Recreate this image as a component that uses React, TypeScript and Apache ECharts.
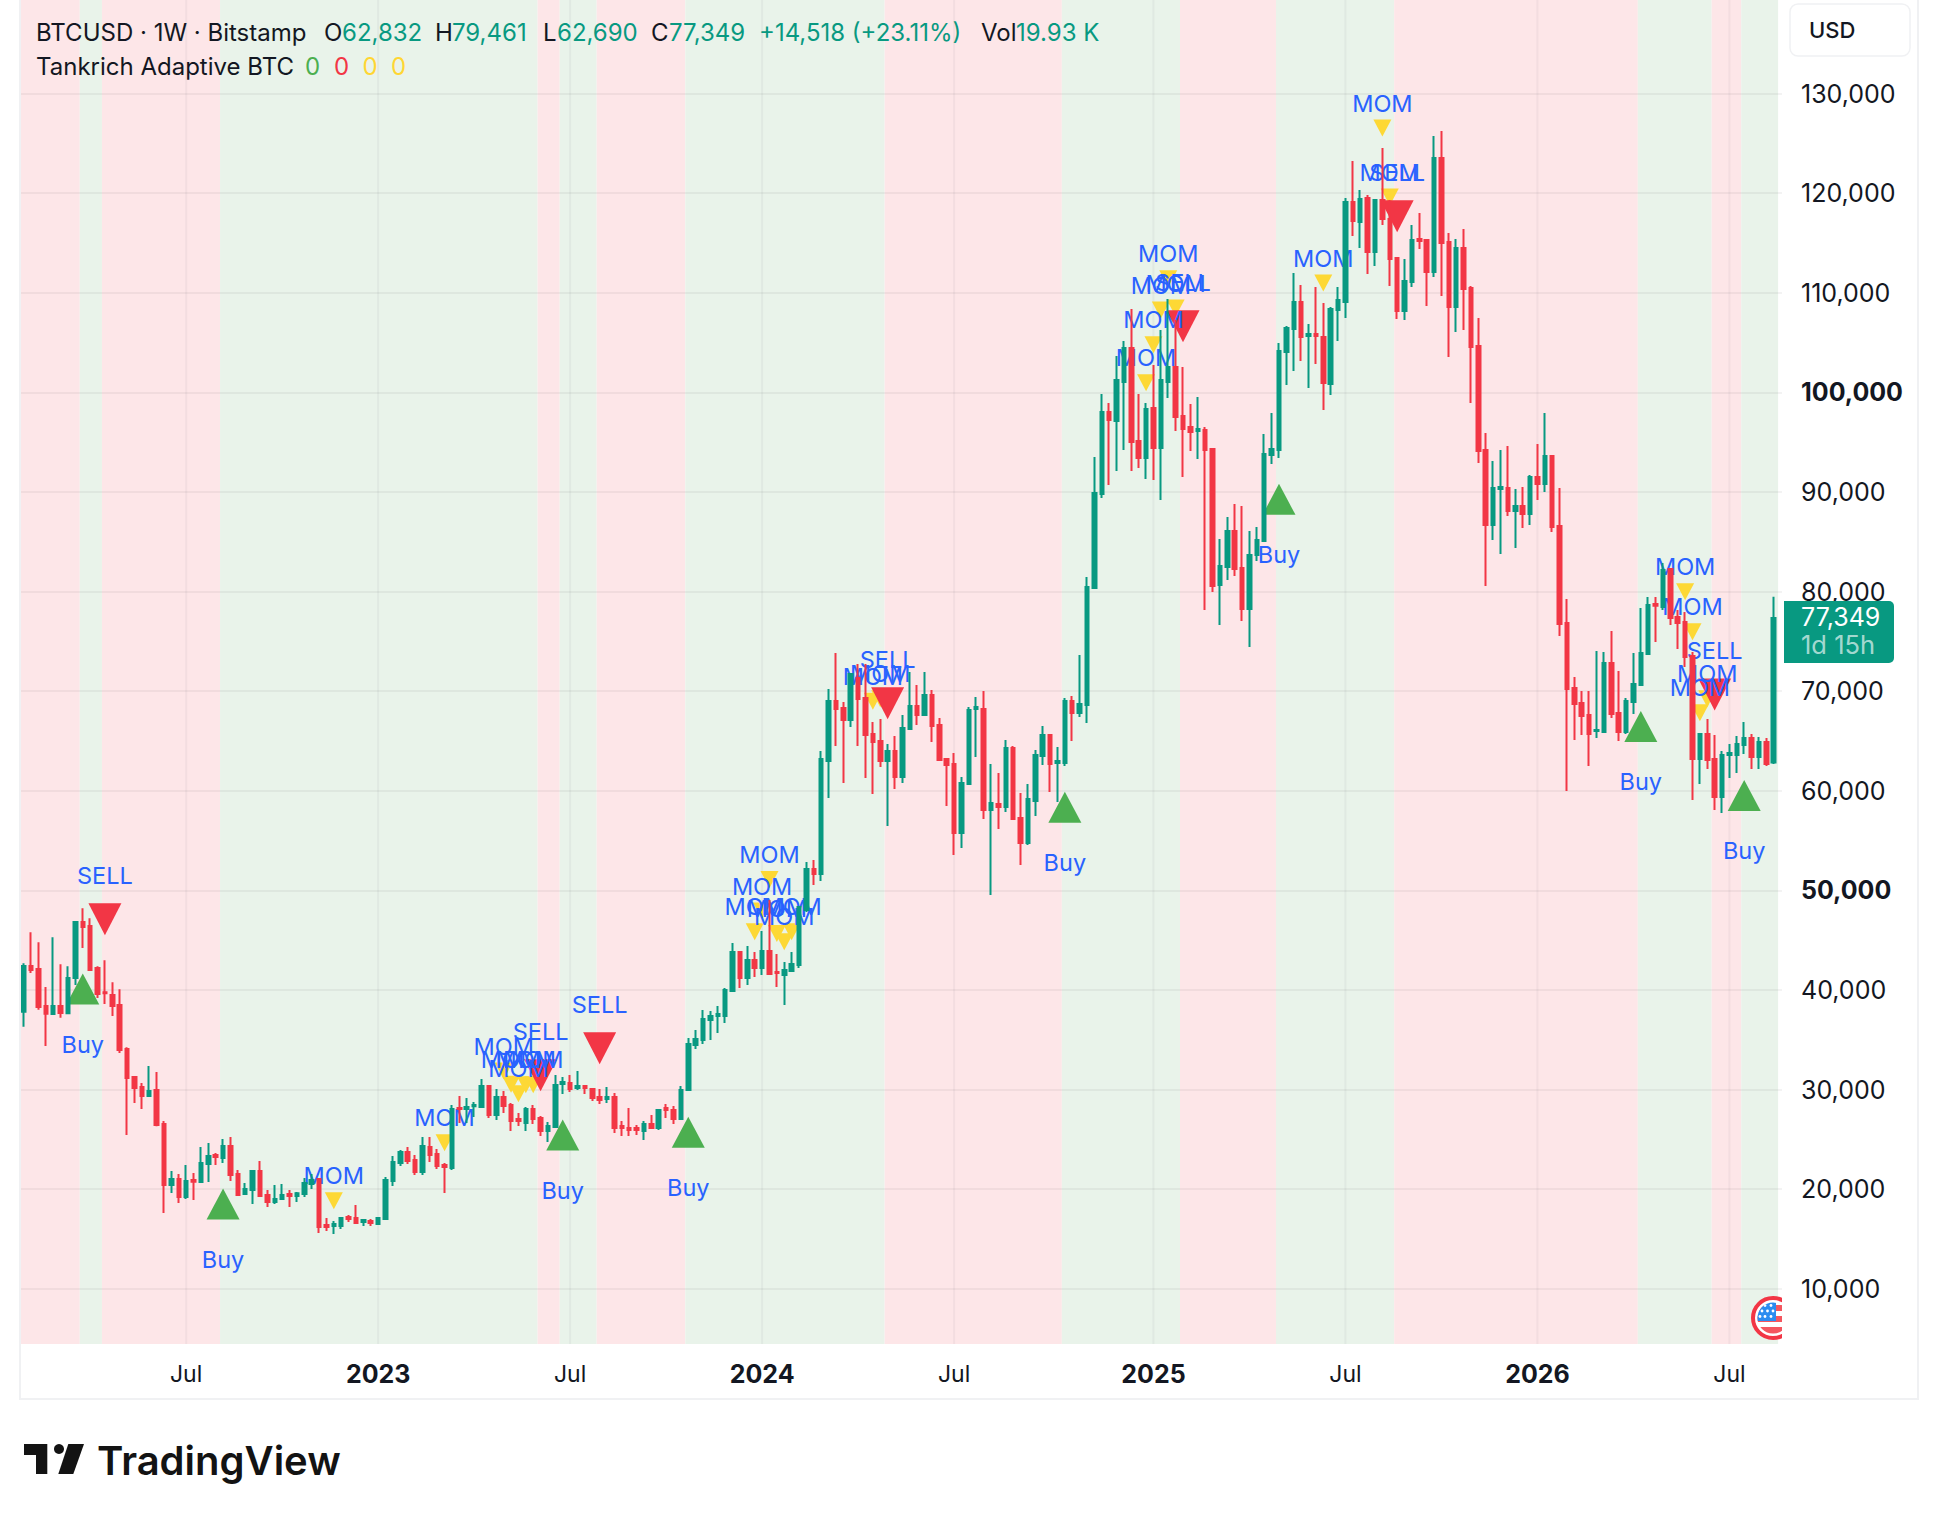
import React, { useEffect, useRef } from "react";
import * as echarts from "echarts";

const opens = [
37813,42398,42097,38382,37579,38382,37646,41194,46816,46415,
42198,39754,39487,38482,34064,31253,30249,29345,29948,26534,
20409,21011,19204,20911,20710,22517,23421,23120,24325,21513,
19505,19907,21814,19405,18702,19003,19505,19304,19505,20509,
21011,16392,16292,16292,17196,17095,16693,16794,16493,16995,
20810,22618,23722,22919,21714,24224,23521,22417,22116,28140,
28040,28307,28241,30349,27437,29245,28441,27036,26634,28040,
27136,25831,26232,30550,30650,30148,30349,30048,29245,29044,
29245,26333,26132,26132,25831,26534,26132,28140,27939,27036,
29948,34466,34968,36976,37378,37378,39888,43804,41194,43001,
42198,43905,41796,41495,41896,42499,48021,52138,51633,62979,
69004,68301,67096,71313,69305,65690,64987,62979,63983,61373,
66192,68502,67598,69606,66594,63180,62678,55750,60670,68201,
68201,58059,58662,58360,64285,57256,54746,58963,63481,65590,
62778,62778,69004,67799,68599,80347,89786,98019,97116,101032,
104446,95107,93400,98421,94405,101032,102538,97618,96513,96111,
96212,94304,80648,82456,86070,82355,78239,83661,85066,93702,
94204,104044,106353,109064,105650,105851,105550,100831,108261,109063,
119104,117096,119506,114084,119305,117397,113481,108159,111071,115389,
115289,112075,123522,115088,108561,114485,110469,104645,94202,86672,
90287,90387,88077,88580,87776,91491,90789,93600,86573,76834,
70307,68801,67596,65989,65889,72817,67797,65889,68901,70608,
73721,78741,78440,82256,77436,76934,73520,63178,65688,63178,
59362,63579,63579,64584,65286,63379,64885,62832];

const closes = [
42398,41997,38282,37612,38382,37679,41194,46816,46314,41997,
39587,39654,38382,33964,31153,30148,29345,29847,26433,20409,
21011,19204,20810,20743,22618,23321,23220,24325,21413,19405,
20007,21814,19304,18702,19003,19405,19304,19572,20609,20911,
16191,16191,16493,17095,16995,16593,16894,16593,17095,20911,
22718,23722,22818,21714,24325,23421,22316,22216,28040,28040,
28241,28441,30349,27437,29245,28341,26835,26835,28040,27036,
25831,26333,30450,30751,30048,30349,30148,29144,28943,29245,
26132,26132,25931,25931,26534,26132,27939,27939,27036,29948,
34566,35069,37077,37378,37579,39989,43804,41194,43001,42198,
43905,41595,41696,41997,42599,48323,52138,51636,63180,69004,
68201,67096,71715,69205,65590,64887,62979,63983,61373,66293,
68502,67598,69606,66494,63080,62578,55750,60770,68100,68401,
58059,58762,58360,64285,57155,54746,59164,63582,65590,62678,
62979,69004,67799,68703,80448,89886,98019,97216,101232,104446,
95007,93400,98321,94405,101232,102538,97517,96312,96011,96312,
94204,80548,82556,86070,82255,78239,83661,85167,93802,94304,
104144,106454,109064,105550,105851,105650,100931,108362,109265,119104,
117196,119405,114084,119305,117397,113381,108159,111172,115289,115188,
112075,123522,114987,108561,114485,110369,104545,94102,86672,90387,
90487,88077,88580,87776,91491,90789,93600,86471,76733,70207,
68700,67495,65688,66090,72817,67696,65889,69002,70709,73821,
78641,78575,82155,77336,76834,73420,63178,65688,63077,59362,
63579,63780,64684,65286,63379,64885,62676,77349];

const lows = [
36307,41696,38014,34366,37478,37211,37612,40491,44206,41930,
39185,38583,37378,33663,25429,28642,28040,29245,26300,17597,
19605,18601,19003,18902,20710,20710,22417,22618,20810,19405,
19505,18501,19304,18200,18501,19003,18200,18702,19204,20007,
15589,15790,15489,15991,16693,16550,16292,16292,16450,16950,
20308,22316,22517,21413,21413,22718,22015,19605,21915,26634,
26634,27237,28140,27136,26935,27638,25831,26333,25831,26534,
25329,24726,26232,29546,29747,29948,29546,28843,28542,28642,
25630,25329,25329,25429,24927,26132,25931,27136,26534,27036,
29847,34064,34566,34968,35671,36675,39888,40189,40491,41294,
41495,41495,40290,38482,41796,42198,47821,50532,50930,59264,
64485,60770,66393,64485,61272,59666,62377,56453,60168,60770,
66092,66594,67598,64887,63080,58461,53541,54244,60670,63381,
57155,49524,56151,57858,57155,52537,54545,57457,62578,59866,
58862,62477,64987,67397,66792,80247,89384,90689,92095,94204,
92095,92396,91292,91191,89183,99425,96111,91493,94103,93300,
78138,79945,76632,81150,81552,77034,74423,83058,85066,92798,
93400,100730,102136,103140,100429,102839,98220,99726,105148,107457,
115690,114485,111875,112678,116795,110670,107356,107256,110569,114385,
108662,111573,109666,103541,106051,106252,98922,92897,80547,85166,
83760,87575,84362,86371,86672,89182,89985,85969,75528,59965,
65086,65588,62475,65286,65788,67295,64985,65688,67696,70608,
73721,74926,78139,76633,74223,72416,59061,60668,62174,58057,
57756,61270,61772,63680,62174,62174,62475,62690];

const highs = [
42666,45779,44775,40290,45277,42566,42365,46883,48189,47185,
42365,42967,40758,40056,34232,31253,30650,32357,31755,26835,
21814,21513,22417,21614,24224,24626,23622,25028,25228,21915,
20609,21814,22818,19907,20409,20509,19907,19706,21112,21513,
21112,17095,16794,17196,17396,18400,16995,16995,17196,21212,
23321,23923,24224,23421,25228,25228,24023,22618,28441,29345,
29144,28743,31052,30450,30048,29847,28642,27638,28241,28441,
27337,26734,31454,31253,31454,31855,30450,30048,30048,30249,
29646,26835,28140,26433,26835,27437,28040,28542,28341,30349,
35169,35972,37980,37880,38382,40189,44708,43804,44407,43804,
45913,49025,43603,42800,43804,48323,52841,53042,63983,70209,
73823,68903,71715,72719,72719,66895,67196,64686,65489,67598,
71916,70610,71916,70108,67297,63280,63782,61373,68401,69405,
70008,62678,61774,65088,64485,59766,60670,64084,66494,65590,
64385,69305,69506,73623,81452,93501,99827,98923,103642,105148,
108362,99827,98923,102739,106253,109366,107257,102538,98823,99525,
96513,94405,85267,87476,88782,88581,86070,86472,95810,97919,
104948,106655,111976,110771,106855,110571,108964,108562,110571,119506,
123221,120309,119807,119305,124526,119305,113582,113381,116795,118000,
115389,125731,126233,115991,115389,116393,110670,107457,95909,93098,
94202,94604,90287,90487,91692,94805,97918,93600,90389,79243,
71411,70006,70006,74022,73922,76030,72014,69303,73821,78340,
79444,79444,82858,82356,78139,77938,73922,65788,67194,65588,
63981,64684,65487,66893,65688,65387,65286,79461];

// Bars at which the background state changes
const regionStarts = [0, 8, 11, 27, 70, 73, 78, 90, 117, 141, 157, 170, 186, 219, 229, 233];
const regionEnds = [8, 11, 27, 70, 73, 78, 90, 117, 141, 157, 170, 186, 219, 229, 233, 238];
const regionSides = ["sell", "buy", "sell", "buy", "sell", "buy", "sell", "buy", "sell", "buy", "sell", "buy", "sell", "buy", "sell", "buy"];

const tickBars = [22, 48, 74, 100, 126, 153, 179, 205, 231];
const tickLabels = ["Jul", "2023", "Jul", "2024", "Jul", "2025", "Jul", "2026", "Jul"];

const buyMarks = [[8, 40089], [27, 18501], [73, 25429], [90, 25697], [141, 58327], [170, 89250], [219, 66458], [233, 59530]];
const sellMarks = [[11, 47084], [70, 31420], [78, 34131], [117, 68769], [157, 106621], [186, 117665], [229, 69671]];
const momMarks = [
  [42, 18836], [57, 24659], [65, 31855], [66, 30516], [67, 29579], [68, 30483], [69, 30483],
  [99, 45842], [100, 47917], [101, 51097], [102, 45675], [103, 44838], [104, 45842],
  [115, 68970], [116, 69238], [152, 100965], [153, 104780], [154, 108261], [155, 111407], [156, 108462],
  [176, 110972], [184, 126535], [185, 119606], [225, 79980], [226, 75963], [227, 67830], [228, 69236],
];

const paneFloor = 4450;
const paneCeiling = 139388;
const headerLine = [
  { t: "BTCUSD · 1W · Bitstamp", x: 36, c: "#131722" },
  { t: "O", x: 324, c: "#131722" }, { t: "62,832", x: 342, c: "#089981" },
  { t: "H", x: 435, c: "#131722" }, { t: "79,461", x: 452, c: "#089981" },
  { t: "L", x: 543, c: "#131722" }, { t: "62,690", x: 557, c: "#089981" },
  { t: "C", x: 651, c: "#131722" }, { t: "77,349", x: 669, c: "#089981" },
  { t: "+14,518 (+23.11%)", x: 759, c: "#089981" },
  { t: "Vol", x: 981, c: "#131722" }, { t: "19.93 K", x: 1016, c: "#089981" },
];
const indicatorLine = [
  { t: "Tankrich Adaptive BTC", x: 36, c: "#131722" },
  { t: "0", x: 305, c: "#4CAF50" }, { t: "0", x: 334, c: "#F23645" },
  { t: "0", x: 362.5, c: "#FFD633" }, { t: "0", x: 391, c: "#FFD633" },
];

const FONT = "Inter";
const flagSvg =
  "data:image/svg+xml;utf8," +
  encodeURIComponent(
    `<svg xmlns="http://www.w3.org/2000/svg" width="31" height="44" viewBox="0 0 31 44">
<defs><clipPath id="c"><circle cx="22" cy="22" r="15.5"/></clipPath></defs>
<circle cx="22" cy="22" r="20" fill="#fff" stroke="#F23645" stroke-width="4"/>
<g clip-path="url(#c)"><rect x="0" y="6" width="44" height="32" fill="#fff"/>
<rect x="0" y="9" width="44" height="6" fill="#F4565F"/><rect x="0" y="20" width="44" height="6" fill="#F4565F"/><rect x="0" y="31" width="44" height="8" fill="#F4565F"/>
<rect x="6" y="6" width="19" height="19" fill="#2B8CF0"/>
<g fill="#fff"><circle cx="14" cy="9.5" r="1.4"/><circle cx="20" cy="9.5" r="1.4"/><circle cx="11" cy="15" r="1.4"/><circle cx="16.5" cy="15" r="1.4"/><circle cx="22" cy="15" r="1.4"/><circle cx="14" cy="20.5" r="1.4"/><circle cx="20" cy="20.5" r="1.4"/><circle cx="9" cy="20.5" r="1.4"/></g></g>
</svg>`
  );

function markSeries(name: string, marks: number[][], color: string, size: number[], text: string, down: boolean, dy: number) {
  return {
    name,
    type: "scatter",
    z: 2,
    data: marks,
    symbol: "triangle",
    symbolSize: size,
    symbolRotate: down ? 180 : 0,
    itemStyle: { color, opacity: 1 },
    label: {
      show: true,
      position: "inside",
      offset: [0, dy],
      formatter: text,
      color: "#2962FF",
      fontFamily: FONT,
      fontSize: 23.5,
    },
    silent: true,
  };
}

export default function App() {
  const ref = useRef<HTMLDivElement>(null);
  useEffect(() => {
    const chart = echarts.init(ref.current!, undefined, { renderer: "svg" });
    const text = (t: string, x: number, y: number, fill: string, extra: any = {}) => ({
      type: "text",
      z: 100,
      silent: true,
      style: { text: t, x, y, fill, fontFamily: FONT, fontSize: 24, textVerticalAlign: "middle", verticalAlign: "middle", ...extra },
    });
    const option: any = {
      animation: false,
      backgroundColor: "#ffffff",
      grid: { left: 20, top: 0, width: 1762, height: 1388.3, containLabel: false, show: false },
      xAxis: {
        type: "value",
        min: -0.5,
        max: 238.12,
        axisLine: { show: false },
        axisTick: { show: false, customValues: tickBars },
        splitLine: { show: false },
        axisLabel: {
          customValues: tickBars,
          margin: -14,
          verticalAlign: "middle",
          fontFamily: FONT,
          fontSize: 23,
          color: "#131722",
          formatter: (v: number) => {
            const s = tickLabels[tickBars.indexOf(Math.round(v))] ?? "";
            return s === "Jul" ? s : `{y|${s}}`;
          },
          rich: { y: { fontFamily: FONT, fontSize: 25, fontWeight: 700, color: "#131722" } },
        },
      },
      yAxis: {
        type: "value",
        position: "right",
        min: 0,
        max: paneCeiling,
        interval: 10000,
        z: 1,
        axisLine: { show: false },
        axisTick: { show: false },
        splitLine: {
          show: true,
          showMinLine: false,
          showMaxLine: false,
          lineStyle: { color: "rgba(90,90,100,0.075)", width: 2 },
        },
        axisLabel: {
          margin: 19,
          fontFamily: FONT,
          fontSize: 25,
          color: "#131722",
          align: "left",
          formatter: (v: number) => {
            if (v === 0 || v > 130000) return "";
            const s = v.toLocaleString("en-US");
            return v === 50000 || v === 100000 ? `{b|${s}}` : s;
          },
          rich: { b: { fontFamily: FONT, fontSize: 25, fontWeight: 700, color: "#131722" } },
        },
      },
      series: [
        {
          type: "custom",
          z: 0,
          silent: true,
          clip: false,
          data: regionStarts.map((s, i) => [s, regionEnds[i], regionSides[i] === "buy" ? 1 : 0]),
          encode: { x: [0, 1] },
          renderItem: (_p: any, api: any) => {
            const a = api.coord([api.value(0), paneCeiling]);
            const b = api.coord([api.value(1), paneFloor]);
            const left = Math.max(a[0] - 3, 21);
            return {
              type: "rect",
              shape: { x: left, y: 0, width: b[0] - 3 - left, height: b[1] },
              style: { fill: api.value(2) === 1 ? "#E9F3EA" : "#FDE6E8" },
            };
          },
        },
        {
          type: "custom",
          z: 1,
          silent: true,
          clip: false,
          data: tickBars.map((b) => [b]),
          encode: { x: 0 },
          renderItem: (_p: any, api: any) => {
            const a = api.coord([api.value(0), paneCeiling]);
            const b = api.coord([api.value(0), paneFloor]);
            return {
              type: "line",
              shape: { x1: a[0], y1: 0, x2: a[0], y2: b[1] },
              style: { stroke: "rgba(90,90,100,0.06)", lineWidth: 2 },
            };
          },
        },
        markSeries("Buy", buyMarks, "#4CAF50", [33, 31], "Buy", false, 55),
        markSeries("MOM", momMarks, "#FDD835", [18, 17], "MOM", true, -25),
        markSeries("SELL", sellMarks, "#F23645", [33, 32], "SELL", true, -44),
        {
          type: "candlestick",
          z: 3,
          silent: true,
          barWidth: 4,
          data: opens.map((o, i) => [i, o, closes[i], lows[i], highs[i]]),
          itemStyle: {
            color: "#089981",
            color0: "#F23645",
            borderColor: "#089981",
            borderColor0: "#F23645",
            borderWidth: 2,
          },
        },
      ],
      graphic: {
        elements: [
          { type: "rect", z: 99, silent: true, shape: { x: 20, y: -4, width: 1898, height: 1403 }, style: { fill: "none", stroke: "#F0F1F3", lineWidth: 2 } },
          { type: "rect", z: 99, silent: true, shape: { x: 1790, y: 4, width: 120, height: 52, r: 8 }, style: { fill: "#fff", stroke: "#F0F1F3", lineWidth: 1.5 } },
          text("USD", 1809, 30, "#131722", { fontSize: 22, fontWeight: 500 }),
          ...headerLine.map((h) => text(h.t, h.x, 32, h.c)),
          ...indicatorLine.map((h) => text(h.t, h.x, 66, h.c)),
          { type: "rect", z: 99, silent: true, shape: { x: 1784, y: 601, width: 110, height: 62, r: [0, 5, 5, 0] }, style: { fill: "#089981" } },
          text("77,349", 1801, 617, "#ffffff", { fontSize: 25 }),
          text("1d 15h", 1801, 644, "rgba(255,255,255,0.65)", { fontSize: 25.5 }),
          { type: "image", z: 99, silent: true, style: { image: flagSvg, x: 1751, y: 1296, width: 31, height: 44 } },
          { type: "polygon", z: 99, silent: true, shape: { points: [[24, 1444], [47.3, 1444], [47.3, 1474], [36, 1474], [36, 1455], [24, 1455]] }, style: { fill: "#131313" } },
          { type: "circle", z: 99, silent: true, shape: { cx: 59, cy: 1449, r: 5 }, style: { fill: "#131313" } },
          { type: "polygon", z: 99, silent: true, shape: { points: [[68.3, 1444], [84, 1444], [73.3, 1474], [58.3, 1474]] }, style: { fill: "#131313" } },
          text("TradingView", 97, 1460, "#131313", { fontSize: 40, fontWeight: 600 }),
        ],
      },
    };
    chart.setOption(option);
    return () => chart.dispose();
  }, []);
  return <div ref={ref} style={{ position: "absolute", left: 0, top: 0, width: 1938, height: 1520 }} />;
}
